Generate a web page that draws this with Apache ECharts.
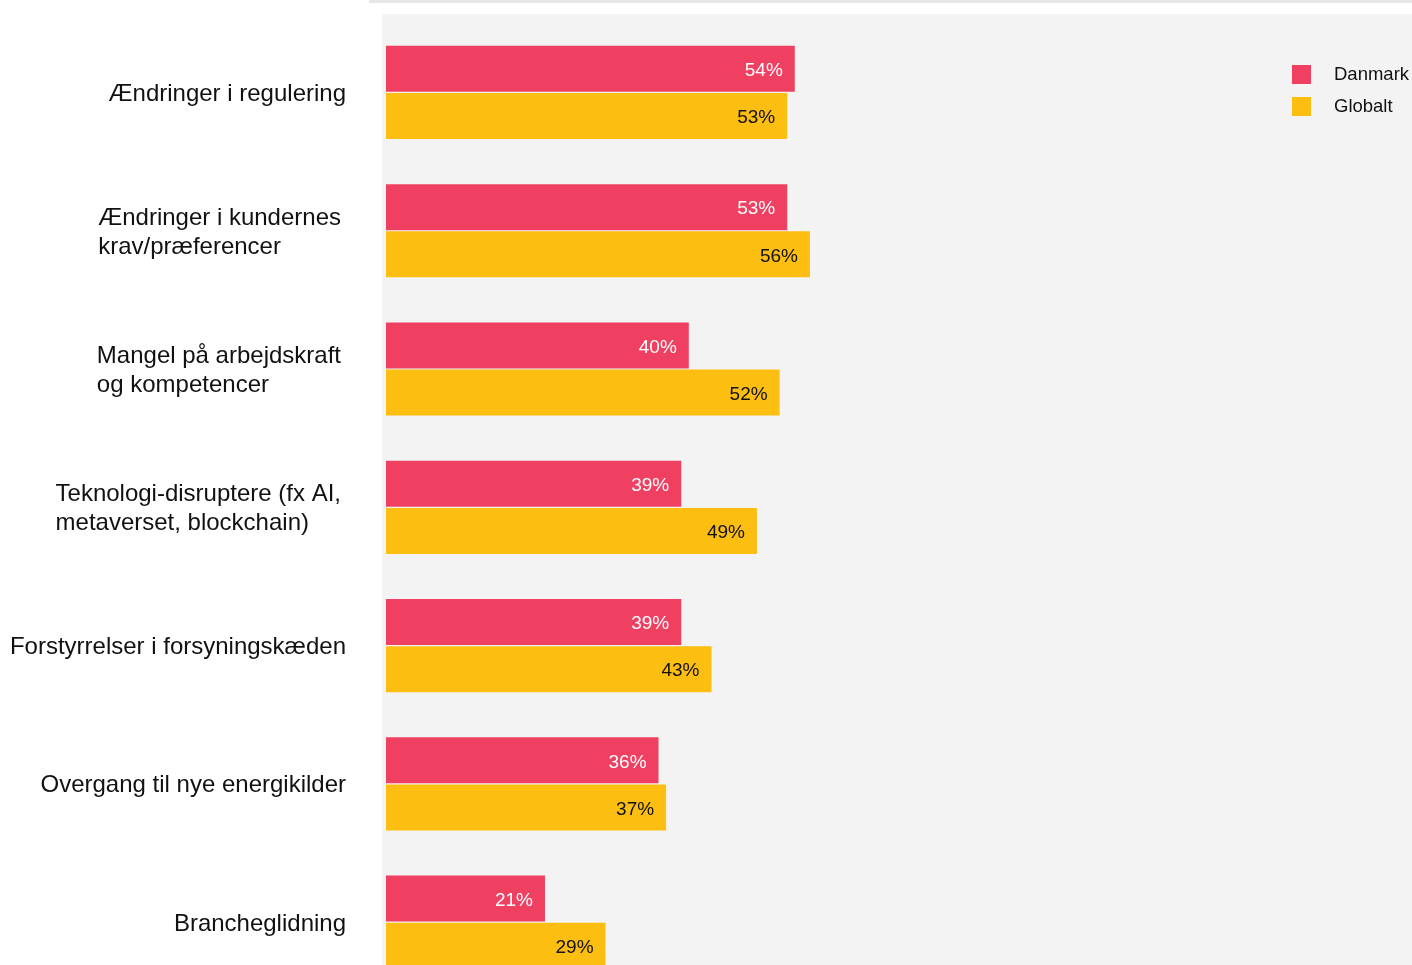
<!DOCTYPE html>
<html style="height: 100%">
  <head>
    <meta charset="utf-8" />
  </head>
  <body style="height: 100%; margin: 0; background: #fff">
    <div id="container" style="height: 100%"></div>

    <script
      type="text/javascript"
      src="https://cdn.jsdelivr.net/npm/echarts@6/dist/echarts.min.js"
    ></script>

    <script type="text/javascript">
      var dom = document.getElementById("container");
      var myChart = echarts.init(dom);

      var FONT = "'Liberation Sans', Arial, Helvetica, sans-serif";

      var categories = [
        "Ændringer i regulering",
        "Ændringer i kundernes\nkrav/præferencer",
        "Mangel på arbejdskraft\nog kompetencer",
        "Teknologi-disruptere (fx AI,\nmetaverset, blockchain)",
        "Forstyrrelser i forsyningskæden",
        "Overgang til nye energikilder",
        "Brancheglidning",
      ];
      var danmark = [54, 53, 40, 39, 39, 36, 21];
      var globalt = [53, 56, 52, 49, 43, 37, 29];

      var option = {
        backgroundColor: "#fff",
        animation: false,
        textStyle: { fontFamily: FONT },
        graphic: [
          {
            type: "rect",
            z: -10,
            shape: { x: 369, y: 0, width: 1043, height: 3 },
            style: { fill: "#e7e7e7" },
          },
          {
            type: "rect",
            z: -10,
            shape: { x: 382, y: 14, width: 1030, height: 951 },
            style: { fill: "#f3f3f3" },
          },
        ],
        legend: {
          data: ["Danmark", "Globalt"],
          orient: "vertical",
          left: 1292,
          top: 65,
          padding: 0,
          itemWidth: 19,
          itemHeight: 19,
          itemGap: 13,
          icon: "rect",
          textStyle: {
            fontFamily: FONT,
            fontSize: 18.5,
            color: "#111",
            padding: [2, 0, 0, 18],
          },
        },
        grid: {
          left: 386,
          width: 757,
          top: 23.3,
          height: 968,
          containLabel: false,
          outerBoundsMode: "none",
        },
        xAxis: {
          type: "value",
          min: 0,
          max: 100,
          show: false,
          splitLine: { show: false },
        },
        yAxis: {
          type: "category",
          inverse: true,
          data: categories,
          axisLine: { show: false },
          axisTick: { show: false },
          axisLabel: {
            margin: 40,
            align: "right",
            formatter: function (value) {
              var lines = value.split("\n");
              var style = lines.length > 1 ? "b" : "a";
              return lines
                .map(function (l) {
                  return "{" + style + "|" + l + "}";
                })
                .join("\n");
            },
            rich: {
              a: {
                fontFamily: FONT,
                fontSize: 24,
                lineHeight: 29,
                color: "#111",
                align: "left",
                padding: [4, 0, 0, 0],
              },
              b: {
                fontFamily: FONT,
                fontSize: 24,
                lineHeight: 29,
                color: "#111",
                align: "left",
                padding: [4, 5, 0, 0],
              },
            },
          },
        },
        series: [
          {
            name: "Danmark",
            type: "bar",
            data: danmark,
            barWidth: 46,
            barGap: "2.5%",
            itemStyle: { color: "#f04062" },
            label: {
              show: true,
              position: "insideRight",
              distance: 12,
              offset: [0, 2],
              formatter: "{c}%",
              color: "#fff",
              fontFamily: FONT,
              fontSize: 19,
            },
          },
          {
            name: "Globalt",
            type: "bar",
            data: globalt,
            barWidth: 46,
            itemStyle: { color: "#fdbe12" },
            label: {
              show: true,
              position: "insideRight",
              distance: 12,
              offset: [0, 2],
              formatter: "{c}%",
              color: "#111",
              fontFamily: FONT,
              fontSize: 19,
            },
          },
        ],
      };

      myChart.setOption(option);
    </script>
  </body>
</html>
